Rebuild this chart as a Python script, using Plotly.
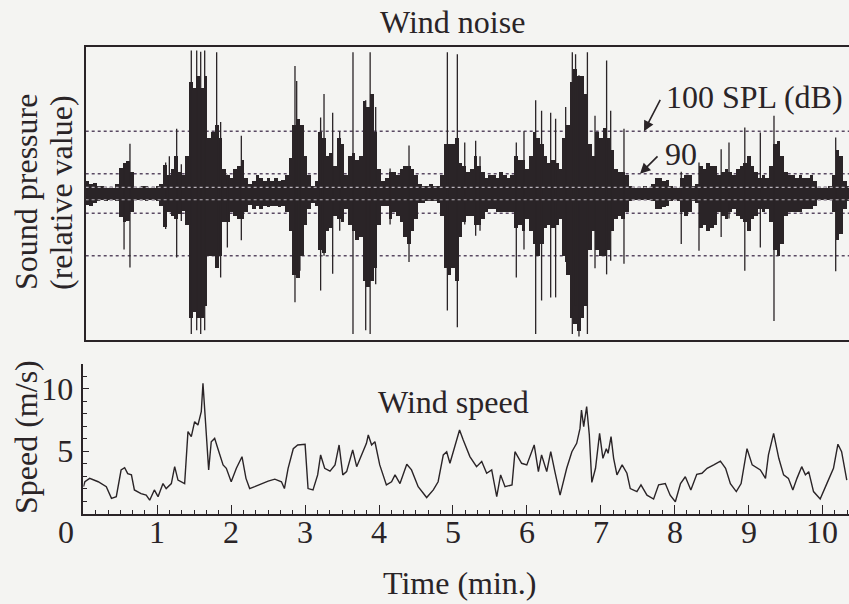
import plotly.graph_objects as go

# ---------------- data ----------------
# Wind noise: sound-pressure envelope per 0.05-min bin (relative units, 100 dB SPL = 1)
NOISE_STEP = 0.05
noise_hi = [0.18, 0.2, 0.16, 0.17, 0.12, 0.12, 0.1, 0.1, 0.1, 0.15,
            0.42, 0.5, 0.52, 0.35, 0.1, 0.1, 0.12, 0.12, 0.1, 0.1,
            0.12, 0.15, 0.47, 0.3, 0.4, 0.6, 0.35, 0.3, 0.6, 1.8,
            1.7, 1.9, 1.7, 1.9, 0.9, 1.0, 1.1, 0.9, 0.4, 0.3,
            0.25, 0.4, 0.45, 0.55, 0.25, 0.15, 0.2, 0.3, 0.25, 0.2,
            0.25, 0.2, 0.25, 0.2, 0.22, 0.3, 0.58, 1.1, 1.2, 1.1,
            0.6, 0.3, 0.12, 0.2, 1.0, 0.9, 0.6, 0.65, 0.45, 0.9,
            0.8, 0.3, 0.6, 0.65, 0.55, 0.6, 1.5, 1.4, 1.6, 1.0,
            0.4, 0.2, 0.25, 0.35, 0.35, 0.3, 0.4, 0.45, 0.45, 0.4,
            0.3, 0.15, 0.12, 0.12, 0.15, 0.12, 0.12, 0.3, 0.8, 0.8,
            0.8, 0.9, 0.5, 0.45, 0.35, 0.4, 0.6, 0.45, 0.35, 0.25,
            0.3, 0.3, 0.25, 0.35, 0.3, 0.25, 0.3, 0.6, 0.55, 0.55,
            0.4, 0.6, 1.0, 0.9, 0.8, 0.6, 0.5, 0.55, 0.5, 0.4,
            0.9, 1.1, 1.8, 2.0, 1.9, 1.9, 1.6, 0.8, 0.6, 1.0,
            0.9, 1.05, 0.9, 0.7, 0.4, 0.35, 0.35, 0.3, 0.12, 0.1,
            0.1, 0.1, 0.12, 0.1, 0.15, 0.25, 0.25, 0.2, 0.22, 0.12,
            0.1, 0.1, 0.25, 0.3, 0.3, 0.12, 0.15, 0.45, 0.4, 0.5,
            0.45, 0.45, 0.3, 0.35, 0.4, 0.35, 0.3, 0.4, 0.45, 0.5,
            0.6, 0.45, 0.35, 0.25, 0.3, 0.25, 0.45, 0.8, 0.85, 0.6,
            0.35, 0.3, 0.3, 0.25, 0.3, 0.25, 0.25, 0.3, 0.2, 0.1,
            0.1, 0.1, 0.12, 0.3, 0.7, 0.6, 0.2, 0.12]
noise_lo = [0.17, 0.18, 0.2, 0.15, 0.12, 0.1, 0.11, 0.1, 0.1, 0.12,
            0.38, 0.45, 0.44, 0.3, 0.1, 0.1, 0.1, 0.12, 0.1, 0.1,
            0.12, 0.2, 0.54, 0.3, 0.35, 0.4, 0.32, 0.28, 0.5, 2.0,
            1.9, 2.0, 2.0, 1.8, 1.0, 1.0, 1.2, 1.0, 0.45, 0.45,
            0.3, 0.35, 0.4, 0.4, 0.3, 0.18, 0.25, 0.2, 0.25, 0.2,
            0.22, 0.2, 0.2, 0.22, 0.2, 0.3, 0.6, 1.3, 1.35, 1.0,
            0.5, 0.25, 0.15, 0.2, 0.9, 0.95, 0.6, 0.55, 0.35, 0.4,
            0.45, 0.25, 0.5, 0.6, 0.75, 0.7, 1.4, 1.5, 1.4, 1.2,
            0.5, 0.2, 0.2, 0.4, 0.3, 0.35, 0.45, 0.7, 0.8, 0.6,
            0.4, 0.15, 0.15, 0.12, 0.12, 0.12, 0.15, 0.35, 1.2, 1.3,
            1.2, 1.4, 0.7, 0.45, 0.35, 0.35, 0.5, 0.5, 0.4, 0.3,
            0.25, 0.25, 0.3, 0.3, 0.3, 0.3, 0.3, 0.55, 0.5, 0.6,
            0.4, 0.6, 0.8, 1.0, 0.8, 0.55, 0.5, 0.55, 0.5, 0.4,
            1.0, 1.3, 2.0, 2.1, 2.2, 2.0, 1.8, 0.9, 0.6, 0.9,
            1.0, 1.0, 0.9, 0.6, 0.4, 0.35, 0.4, 0.3, 0.12, 0.1,
            0.1, 0.1, 0.1, 0.1, 0.12, 0.25, 0.25, 0.22, 0.2, 0.12,
            0.1, 0.12, 0.3, 0.35, 0.3, 0.12, 0.15, 0.55, 0.5, 0.6,
            0.55, 0.5, 0.3, 0.35, 0.4, 0.3, 0.25, 0.35, 0.4, 0.45,
            0.6, 0.4, 0.35, 0.25, 0.3, 0.25, 0.45, 0.9, 1.0, 0.8,
            0.35, 0.3, 0.3, 0.3, 0.3, 0.25, 0.25, 0.25, 0.2, 0.1,
            0.1, 0.1, 0.1, 0.3, 0.75, 0.65, 0.25, 0.12]

# Isolated peaks of the sound pressure: time (min), positive and negative peak
spike_t = [0.55, 0.63, 1.113, 1.163, 1.262, 1.325, 1.46, 1.533, 1.587, 1.641, 1.803, 1.857, 1.948, 2.137,
           2.863, 2.886, 2.93, 3.21, 3.256, 3.373, 3.468, 3.648, 3.82, 3.88, 3.955, 4.15, 4.406, 4.925, 5.06, 5.16,
           5.308, 5.367, 5.858, 5.962, 6.12, 6.2, 6.323, 6.39, 6.526, 6.616, 6.66, 6.706, 6.82, 6.923, 7.08, 7.135, 7.315,
           8.09, 8.33, 8.63, 8.736, 8.95, 9.16, 9.345, 10.18]
spike_hi = [0.45, 0.8, 0.5, 0.6, 1.04, 0.47, 2.3, 2.3, 2.28, 2.3, 2.27, 1.15, 0.3, 0.93,
            2.05, 1.81, 1.0, 1.22, 1.6, 1.3, 1.0, 2.27, 1.5, 2.27, 1.39, 0.4, 0.77, 2.27, 2.24, 0.82,
            0.85, 0.6, 0.82, 1.0, 1.5, 1.33, 1.3, 1.2, 1.39, 2.27, 2.24, 1.9, 2.27, 1.25, 2.14, 1.33, 1.04,
            0.35, 0.5, 0.71, 0.82, 1.06, 0.98, 1.25, 0.9]
spike_lo = [0.9, 1.19, 0.57, 0.2, 1.03, 0.44, 2.26, 2.2, 2.26, 2.2, 0.9, 1.35, 0.87, 0.75,
            1.75, 1.2, 1.24, 1.56, 1.0, 1.29, 0.6, 2.26, 2.2, 2.26, 1.46, 0.5, 1.1, 1.88, 2.15, 0.5,
            0.68, 0.6, 1.35, 0.9, 2.26, 1.72, 1.67, 1.67, 1.1, 2.26, 1.8, 2.3, 2.26, 1.2, 1.3, 1.08, 1.13,
            0.81, 0.92, 0.7, 0.4, 1.24, 0.87, 2.05, 1.25]

# SPL reference levels (dB) drawn as dotted lines
spl_levels_db = [100, 90, 80]

# Wind speed trace: time (min) and speed (m/s)
wind_t = [0.0, 0.02, 0.085, 0.2, 0.31, 0.38, 0.445, 0.51, 0.558, 0.6, 0.65, 0.69, 0.78, 0.85, 0.897,
          0.96, 1.01, 1.077, 1.12, 1.19, 1.235, 1.28, 1.37, 1.415, 1.46, 1.505, 1.55, 1.595, 1.618, 1.64,
          1.695, 1.73, 1.776, 1.82, 1.89, 1.934, 2.0, 2.07, 2.146, 2.2, 2.25, 2.318, 2.408, 2.5, 2.59,
          2.68, 2.72, 2.77, 2.84, 2.9, 3.0, 3.04, 3.107, 3.17, 3.21, 3.265, 3.337, 3.405, 3.46, 3.51,
          3.562, 3.644, 3.698, 3.765, 3.83, 3.855, 3.9, 3.945, 4.01, 4.1, 4.17, 4.217, 4.284, 4.376, 4.44,
          4.53, 4.645, 4.735, 4.8, 4.87, 4.916, 4.96, 5.09, 5.14, 5.23, 5.32, 5.39, 5.457, 5.525, 5.593,
          5.646, 5.705, 5.8, 5.84, 5.93, 6.0, 6.1, 6.157, 6.2, 6.27, 6.324, 6.38, 6.45, 6.54, 6.61,
          6.675, 6.72, 6.74, 6.77, 6.81, 6.846, 6.88, 6.93, 6.985, 7.03, 7.076, 7.1, 7.14, 7.175, 7.22,
          7.29, 7.355, 7.4, 7.49, 7.545, 7.626, 7.716, 7.784, 7.874, 7.94, 8.01, 8.08, 8.145, 8.22, 8.3,
          8.37, 8.44, 8.53, 8.62, 8.69, 8.755, 8.835, 8.9, 8.98, 9.05, 9.16, 9.23, 9.27, 9.34, 9.41,
          9.475, 9.54, 9.6, 9.656, 9.72, 9.77, 9.815, 9.88, 9.97, 10.06, 10.15, 10.21, 10.26, 10.33]
wind_v = [2.15, 2.55, 2.82, 2.55, 2.15, 1.22, 1.35, 3.49, 3.68, 3.2, 3.1, 1.89, 1.6, 1.47, 1.07,
          1.89, 1.35, 2.4, 2.0, 2.4, 3.76, 2.68, 2.4, 6.57, 6.17, 7.37, 7.1, 8.17, 10.45, 8.2,
          3.49, 5.76, 6.03, 5.2, 3.9, 3.63, 2.55, 3.63, 4.56, 2.82, 2.0, 2.15, 2.4, 2.6, 2.76,
          2.55, 2.0, 3.63, 5.2, 5.5, 5.55, 2.0, 1.89, 3.1, 4.7, 3.63, 3.4, 3.9, 5.5, 3.1,
          3.36, 5.1, 3.76, 4.7, 5.63, 6.3, 5.5, 5.76, 3.9, 2.3, 2.55, 3.1, 2.4, 3.95, 3.5,
          2.15, 1.28, 1.89, 2.55, 4.7, 4.96, 4.03, 6.7, 5.9, 4.57, 3.76, 4.17, 3.23, 3.5, 1.35,
          3.1, 2.15, 2.3, 4.96, 4.03, 3.9, 5.5, 3.36, 4.7, 3.36, 4.96, 3.36, 1.47, 3.63, 4.96,
          5.63, 6.83, 8.3, 6.97, 8.58, 6.3, 2.5, 3.63, 6.43, 4.43, 5.2, 4.83, 6.17, 4.43, 3.1,
          3.9, 3.23, 2.0, 1.76, 2.3, 1.47, 1.16, 2.3, 2.4, 1.47, 0.94, 2.4, 2.95, 1.89, 3.15,
          3.23, 3.63, 3.9, 4.2, 3.63, 2.4, 1.76, 2.4, 5.2, 3.9, 3.5, 2.82, 4.7, 6.43, 4.43,
          3.1, 2.82, 1.89, 2.82, 3.76, 3.1, 3.36, 1.76, 1.16, 2.4, 3.63, 5.56, 4.96, 2.68]

time_ticks = [0, 1, 2, 3, 4, 5, 6, 7, 8, 9, 10]
speed_ticks = [5, 10]

# ---------------- style ----------------
W, H = 849, 604
BG = "#f4f4f2"
INK = "#2a2427"
DOT = "#5a4a63"
FONT = "Liberation Serif, Times New Roman, serif"
FS = 32

def px_x(p):
    return p / W

def px_y(p):
    return 1 - p / H

noise_t = [round(i * NOISE_STEP, 3) for i in range(len(noise_hi))]
amp = {db: 10 ** ((db - 100) / 20) for db in spl_levels_db}

fig = go.Figure()

# dense part of the wind-noise waveform
fig.add_trace(go.Bar(
    x=noise_t, y=[h + l for h, l in zip(noise_hi, noise_lo)], base=[-l for l in noise_lo],
    width=NOISE_STEP, marker=dict(color=INK, line=dict(width=0)),
    xaxis="x", yaxis="y", hoverinfo="skip", showlegend=False))

# isolated peaks
sx, sy = [], []
for t, h, l in zip(spike_t, spike_hi, spike_lo):
    sx += [t, t, None]
    sy += [h, -l, None]
fig.add_trace(go.Scatter(x=sx, y=sy, mode="lines", line=dict(color=INK, width=1.3),
                         xaxis="x", yaxis="y", hoverinfo="skip", showlegend=False))

# light dots of the 80 dB lines seen through the dense band
for s in (1, -1):
    fig.add_trace(go.Scatter(x=[0.03, 10.36], y=[s * amp[80]] * 2, mode="lines",
                             line=dict(color="#b9b2ba", width=1.2, dash="dot"),
                             xaxis="x", yaxis="y", hoverinfo="skip", showlegend=False))

# wind speed
fig.add_trace(go.Scatter(x=wind_t, y=wind_v, mode="lines", line=dict(color=INK, width=1.4),
                         xaxis="x2", yaxis="y2", hoverinfo="skip", showlegend=False))

# SPL dotted reference lines (under the waveform)
shapes = []
for db in spl_levels_db:
    for s in (1, -1):
        shapes.append(dict(type="line", xref="x domain", yref="y", x0=0, x1=1,
                           y0=s * amp[db], y1=s * amp[db], layer="below",
                           line=dict(color=DOT, width=1.5, dash="dot")))

ann = []
txt = dict(family=FONT, size=FS, color=INK)
ann.append(dict(text="Wind noise", x=px_x(452), y=px_y(22), xref="paper", yref="paper",
                showarrow=False, font=txt, xanchor="center", yanchor="middle"))
ann.append(dict(text="Sound pressure", x=px_x(26), y=px_y(192), xref="paper", yref="paper",
                showarrow=False, font=txt, textangle=-90, xanchor="center", yanchor="middle"))
ann.append(dict(text="(relative value)", x=px_x(61), y=px_y(193), xref="paper", yref="paper",
                showarrow=False, font=txt, textangle=-90, xanchor="center", yanchor="middle"))
ann.append(dict(text="100 SPL (dB)", x=px_x(754), y=px_y(97), xref="paper", yref="paper",
                showarrow=False, font=txt, xanchor="center", yanchor="middle"))
ann.append(dict(text="90", x=px_x(681), y=px_y(154), xref="paper", yref="paper",
                showarrow=False, font=txt, xanchor="center", yanchor="middle"))
# arrows pointing at the 100 dB and 90 dB lines
ann.append(dict(text="", x=7.586, y=amp[100], xref="x", yref="y", showarrow=True,
                ax=17, ay=-33, arrowhead=2, arrowsize=1.3, arrowwidth=1.6, arrowcolor=INK))
ann.append(dict(text="", x=7.532, y=amp[90], xref="x", yref="y", showarrow=True,
                ax=19, ay=-19, arrowhead=2, arrowsize=1.3, arrowwidth=1.6, arrowcolor=INK))
ann.append(dict(text="Wind speed", x=px_x(453), y=px_y(402), xref="paper", yref="paper",
                showarrow=False, font=txt, xanchor="center", yanchor="middle"))
ann.append(dict(text="Speed (m/s)", x=px_x(26), y=px_y(437), xref="paper", yref="paper",
                showarrow=False, font=txt, textangle=-90, xanchor="center", yanchor="middle"))
ann.append(dict(text="Time (min.)", x=px_x(460), y=px_y(583), xref="paper", yref="paper",
                showarrow=False, font=txt, xanchor="center", yanchor="middle"))
# time tick labels; the "0" sits left of the axis corner
for v in time_ticks:
    if v == 0:
        ann.append(dict(text=str(v), x=px_x(66), y=px_y(532), xref="paper", yref="paper",
                        showarrow=False, font=txt, xanchor="center", yanchor="middle"))
    else:
        ann.append(dict(text=str(v), x=v, y=px_y(532), xref="x2", yref="paper",
                        showarrow=False, font=txt, xanchor="center", yanchor="middle"))

fig.update_layout(
    width=W, height=H, margin=dict(l=0, r=0, t=0, b=0),
    paper_bgcolor=BG, plot_bgcolor=BG, showlegend=False, bargap=0,
    shapes=shapes, annotations=ann,
    xaxis=dict(domain=[px_x(85.7), 1], range=[0.031, 10.36], showline=True, mirror=True,
               linecolor=INK, linewidth=1.6, showgrid=False, zeroline=False,
               showticklabels=False, ticks=""),
    yaxis=dict(domain=[px_y(340), px_y(46.7)], range=[-2.355, 2.36], showline=True,
               linecolor=INK, linewidth=1.6, showgrid=False, zeroline=False,
               showticklabels=False, ticks=""),
    xaxis2=dict(domain=[px_x(83.4), 1], range=[0, 10.36], anchor="y2", showline=True,
                linecolor=INK, linewidth=1.6, showgrid=False, zeroline=False,
                tickvals=time_ticks, ticks="inside", ticklen=9, tickwidth=1.3, tickcolor=INK,
                showticklabels=False,
                minor=dict(dtick=1 / 6, tick0=0, ticks="inside", ticklen=4, tickwidth=1.1,
                           tickcolor=INK, showgrid=False)),
    yaxis2=dict(domain=[px_y(513.5), px_y(364)], range=[0, 12], anchor="x2", showline=True,
                linecolor=INK, linewidth=1.6, showgrid=False, zeroline=False,
                tickvals=speed_ticks, ticktext=[str(v) for v in speed_ticks],
                ticks="inside", ticklen=6, tickwidth=1.3, tickcolor=INK,
                tickfont=dict(family=FONT, size=FS, color=INK), ticklabelstandoff=2,
                minor=dict(dtick=1, tick0=0, ticks="inside", ticklen=4, tickwidth=1.1,
                           tickcolor=INK, showgrid=False)),
)

fig.write_html("out.html")
